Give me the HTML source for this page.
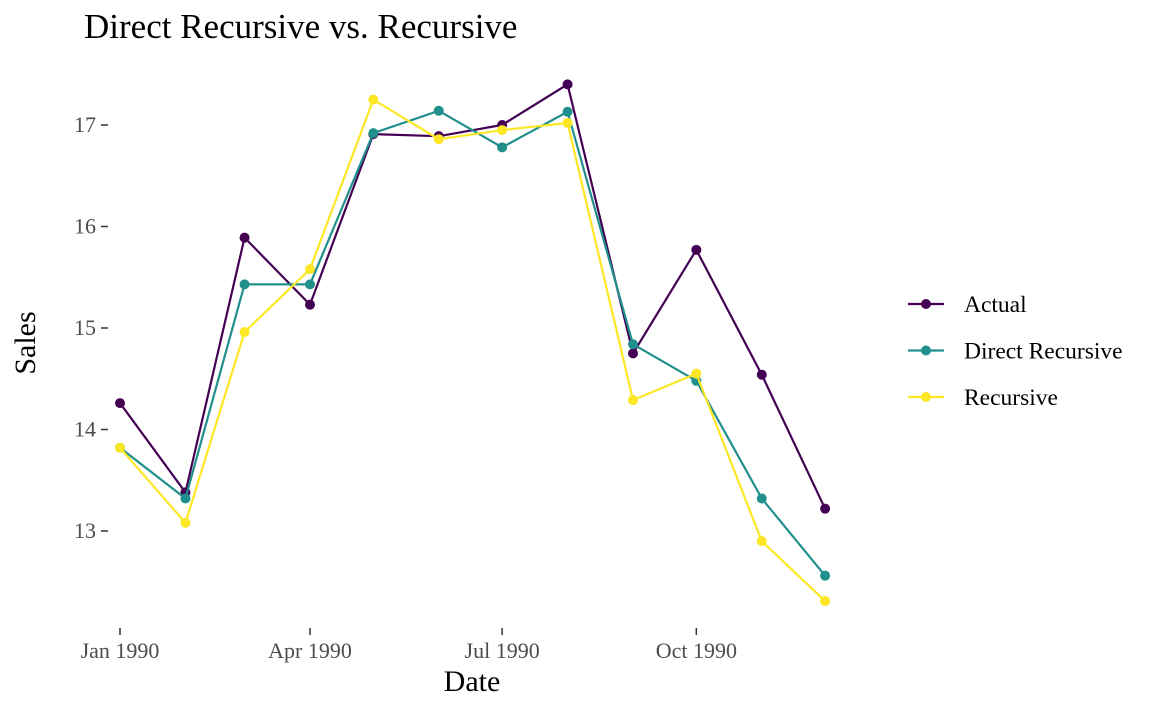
<!DOCTYPE html>
<html><head><meta charset="utf-8"><style>
body{margin:0;background:#fff}
svg text{font-family:"Liberation Serif",serif}
</style></head><body>
<svg id="chart" width="1152" height="711" xmlns="http://www.w3.org/2000/svg">
<text x="84" y="38" font-size="35" fill="#000">Direct Recursive vs. Recursive</text>
<g id="yaxis"></g>
<g id="xaxis"></g>
<g id="series"></g>
<text x="472" y="691" font-size="30" text-anchor="middle" fill="#000">Date</text>
<text transform="translate(35,343) rotate(-90)" font-size="30" text-anchor="middle" fill="#000">Sales</text>
<g id="legend"></g>
</svg>
<script>
const dayOffsets=[0,31,59,90,120,151,181,212,243,273,304,334];
const actual=[14.26,13.38,15.89,15.23,16.91,16.89,17.0,17.4,14.75,15.77,14.54,13.22];
const directRecursive=[13.82,13.32,15.43,15.43,16.92,17.14,16.78,17.13,14.84,14.48,13.32,12.56];
const recursive=[13.82,13.08,14.96,15.58,17.25,16.86,16.95,17.02,14.29,14.55,12.90,12.31];
const yTicks=[13,14,15,16,17];
const xTickDays=[0,90,181,273];
const xTickLabels=["Jan 1990","Apr 1990","Jul 1990","Oct 1990"];
const seriesNames=["Actual","Direct Recursive","Recursive"];
const colors=["#440154","#21908C","#FDE725"];

const NS="http://www.w3.org/2000/svg";
const x=d=>120+d*(190/90);
const y=v=>125+(17-v)*101.5;
function mk(tag,attrs,parent){const e=document.createElementNS(NS,tag);for(const k in attrs)e.setAttribute(k,attrs[k]);parent.appendChild(e);return e;}
const ya=document.getElementById('yaxis');
yTicks.forEach(t=>{
  const l=mk('line',{x1:101,x2:108,y1:y(t),y2:y(t),stroke:'#333','stroke-width':1.5},ya);
  
  
  const tx=mk('text',{x:96,y:y(t)+7,'font-size':22,'text-anchor':'end',fill:'#4d4d4d'},ya);
  tx.textContent=t;
  
  
});
const xa=document.getElementById('xaxis');
xTickDays.forEach((d,i)=>{
  const l=mk('line',{x1:x(d),x2:x(d),y1:628,y2:635,stroke:'#333','stroke-width':1.5},xa);
  
  
  const tx=mk('text',{x:x(d),y:658,'font-size':22,'text-anchor':'middle',fill:'#4d4d4d'},xa);
  tx.textContent=xTickLabels[i];
  
  
});
const sg=document.getElementById('series');
[actual,directRecursive,recursive].forEach((vals,si)=>{
  const g=mk('g',{},sg);
  
  
  const pl=mk('polyline',{points:vals.map((v,i)=>x(dayOffsets[i])+','+y(v)).join(' '),fill:'none',stroke:colors[si],'stroke-width':2.2},g);
  
  
  vals.forEach((v,i)=>{
    const c=mk('circle',{cx:x(dayOffsets[i]),cy:y(v),r:5,fill:colors[si]},g);
    
    
  });
});
const lg=document.getElementById('legend');
seriesNames.forEach((n,i)=>{
  const yy=304+i*46.5;
  const g=mk('g',{},lg);
  
  
  mk('line',{x1:908,x2:944,y1:yy,y2:yy,stroke:colors[i],'stroke-width':2.2},g);
  mk('circle',{cx:926,cy:yy,r:5,fill:colors[i]},g);
  const t=mk('text',{x:964,y:yy+8,'font-size':23.5,fill:'#000'},g);
  t.textContent=n;
});
</script>
</body></html>
